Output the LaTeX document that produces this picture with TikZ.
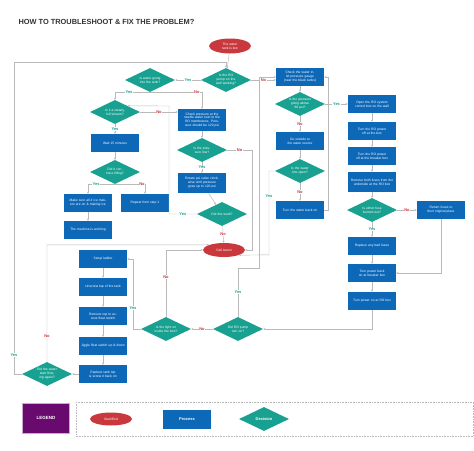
\documentclass[tikz,border=0pt]{standalone}
\usepackage{fontspec}
\setmainfont{Liberation Sans}
\usetikzlibrary{shapes.geometric,arrows.meta,calc}
\definecolor{pblue}{RGB}{14,104,184}
\definecolor{dteal}{RGB}{24,160,145}
\definecolor{tred}{RGB}{200,56,60}
\definecolor{lpurp}{RGB}{104,10,110}
\definecolor{lgray}{RGB}{185,185,185}
\begin{document}
\begin{tikzpicture}[x=1pt,y=-1pt,
  txt/.style={font=\fontsize{3.3}{3.9}\selectfont,text=white,align=center},
  proc/.style={txt,rectangle,fill=pblue,minimum width=48pt,minimum height=18pt,text width=44pt,inner sep=1pt},
  dec/.style={txt,diamond,fill=dteal,aspect=2,text width=24pt,inner sep=0.3pt,minimum width=50pt,minimum height=24pt},
  term/.style={txt,ellipse,fill=tred,minimum width=42pt,minimum height=15pt,inner sep=0pt},
  ln/.style={draw=lgray,line width=0.45pt,-{Stealth[length=2.2pt,width=2pt]}},
  yes/.style={font=\fontsize{4}{4}\selectfont\bfseries,text=dteal,fill=white,inner sep=0.6pt},
  no/.style={font=\fontsize{4}{4}\selectfont\bfseries,text=tred,fill=white,inner sep=0.6pt}]
\useasboundingbox (0,0) rectangle (474,450);
\fill[white] (0,0) rectangle (474,450);
\node[anchor=west,font=\fontsize{7.4}{8}\selectfont\bfseries,text=black!80] (title) at (15,22) {HOW TO TROUBLESHOOT \& FIX THE PROBLEM?};

\node[term] (start) at (230,46) {The water\\tank is low};
\node[dec] (d1) at (226,80) {Is the RO pump on the well working?};
\node[dec] (d2) at (150,80) {Is water going into the tank?};
\node[dec] (d3) at (115,112) {Is it a steady, full stream?};
\node[proc,minimum height=22pt] (chkp) at (202,120) {Check pressure at the needle water next to the RO membranes. Pressure should be 120 psi};
\node[dec] (plow) at (202,150) {Is the pressure low?};
\node[proc,minimum height=20pt] (rot) at (202,183) {Rotate psi valve clockwise until pressure goes up to 120 psi};
\node[dec] (dw) at (222,214) {Did this work?};
\node[term,minimum height=14pt] (aaron) at (224,250) {Call Aaron};
\node[proc] (wait) at (115,143) {Wait 15 minutes};
\node[dec] (cont) at (115,172) {Did it continue filling?};
\node[proc] (make) at (88,203) {Make sure all 4 ice makers are on \& making ice};
\node[proc] (rep) at (145,203) {Repeat from step 1};
\node[proc] (work) at (88,230) {The machine is working};

\node[proc] (inlet) at (300,77) {Check the water inlet pressure gauge (near the black tanks)};
\node[dec] (p60) at (300,104) {Is the pressure going above 60 psi?};
\node[proc] (out) at (300,141) {Go outside to the water source};
\node[dec] (wl) at (300,171) {Is the water line open?};
\node[proc] (back) at (300,210) {Turn the water back on};

\node[proc] (open) at (372,104) {Open the RO system control box on the wall};
\node[proc] (off1) at (372,131) {Turn the RO power off at the box};
\node[proc] (off2) at (372,156) {Turn the RO power off at the breaker box};
\node[proc,minimum height=20pt] (rem) at (372,182) {Remove both fuses from the underside at the RO box};
\node[dec] (fuse) at (372,210) {Is either fuse burned out?};
\node[proc] (ret) at (441,210) {Return fuses to their original place};
\node[proc] (repl) at (372,246) {Replace any bad fuses};
\node[proc] (pback) at (372,273) {Turn power back on at breaker box};
\node[proc] (pon) at (372,301) {Turn power on at RO box};
\node[dec] (rop) at (238,329) {Did RO pump turn on?};
\node[dec] (light) at (166,329) {Is the light on inside the box?};

\node[proc] (lad) at (103,259) {Setup ladder};
\node[proc] (uns) at (103,287) {Unscrew top of the tank};
\node[proc] (rtop) at (103,316) {Remove top to access float switch};
\node[proc] (jig) at (103,346) {Jiggle float switch up \& down};
\node[proc] (rpt) at (103,374) {Replace tank top \& screw it back on};
\node[dec] (wat) at (47,374) {Did the water start flowing again?};

% connectors
\draw[ln] (start) -- (d1);
\draw[ln] (d1) -- node[yes]{Yes} (d2);
\draw[ln] (d1.east) -- node[no]{No} (d1.east -| inlet.west);
\draw[ln] (d2.south) -| node[pos=0.3,yes]{Yes} (d3.north);
\draw[ln] (d2.south) -| node[pos=0.45,no]{No} (chkp.north);
\draw[ln] (d3.east) -- node[no]{No} (d3.east -| chkp.west);
\draw[ln] (d3) -- node[yes]{Yes} (wait);
\draw[ln] (wait) -- (cont);
\draw[ln] (cont.south) -| node[pos=0.35,yes]{Yes} (make.north);
\draw[ln] (cont.south) -| node[pos=0.45,no]{No} (rep.north);
\draw[ln] (make) -- (work);
\draw[ln] (chkp) -- (plow);
\draw[ln] (plow) -- node[yes]{Yes} (rot);
\draw[ln] (rot) -- (dw);
\draw[ln] (dw) -- node[no]{No} (aaron);
\draw[ln] (dw.west) -- node[yes]{Yes} (169,214) -- (169,106) -- (d3.north east);
\draw[ln] (plow.east) -- node[no]{No} (252,150) |- (aaron.east);
\draw[ln] (inlet) -- (p60);
\draw[ln] (p60) -- node[no]{No} (out);
\draw[ln] (out) -- (wl);
\draw[ln] (wl) -- node[no]{No} (back);
\draw[ln] (back.east) -- (328,210) |- (inlet.east);
\draw[ln] (p60) -- node[yes]{Yes} (open);
\draw[ln] (wl.west) -- (269,171) -- node[pos=0.3,yes]{Yes} (269,254.9) -- (aaron.south east);
\draw[ln] (open) -- (off1);
\draw[ln] (off1) -- (off2);
\draw[ln] (off2) -- (rem);
\draw[ln] (rem) -- (fuse);
\draw[ln] (fuse) -- node[yes]{Yes} (repl);
\draw[ln] (fuse) -- node[no]{No} (ret);
\draw[ln] (ret.south) |- (pback.east);
\draw[ln] (repl) -- (pback);
\draw[ln] (pback) -- (pon);
\draw[ln] (pon.south) |- (rop.east);
\draw[ln] (rop) -- node[no]{No} (light);
\draw[ln] (rop.north) -- node[pos=0.5,yes]{Yes} (238,268) -- (259,268) -- (259,77) -- (inlet.west);
\draw[ln] (light.north) -- node[pos=0.6,no]{No} (166,250) -- (aaron.west);
\draw[ln] (light.west) -- (133,329) -- node[pos=0.3,yes]{Yes} (133,259) -- (lad.east);
\draw[ln] (lad) -- (uns);
\draw[ln] (uns) -- (rtop);
\draw[ln] (rtop) -- (jig);
\draw[ln] (jig) -- (rpt);
\draw[ln] (rpt) -- (wat);
\draw[ln] (wat.north) -- node[pos=0.22,no]{No} (47,244.9) -- (aaron.north west);
\draw[ln] (wat.west) -- (14,374) -- node[pos=0.06,yes]{Yes} (14,62) -- (226,62) -- (d1.north);

% legend
\node[txt,rectangle,fill=lpurp,draw=lpurp!35,line width=1pt,minimum width=47pt,minimum height=30pt,font=\fontsize{4.5}{5}\selectfont\bfseries] (leg) at (46,418) {LEGEND};
\draw[lgray,densely dotted,line width=0.6pt] (76,402) rectangle (473.5,436);
\node[term,minimum height=13pt] (lse) at (111,419) {Start/End};
\node[proc,font=\fontsize{4}{5}\selectfont\bfseries,minimum height=19pt] (lpr) at (187,419) {Process};
\node[dec,font=\fontsize{4}{5}\selectfont\bfseries] (lde) at (264,419) {Decision};
\end{tikzpicture}
\end{document}
